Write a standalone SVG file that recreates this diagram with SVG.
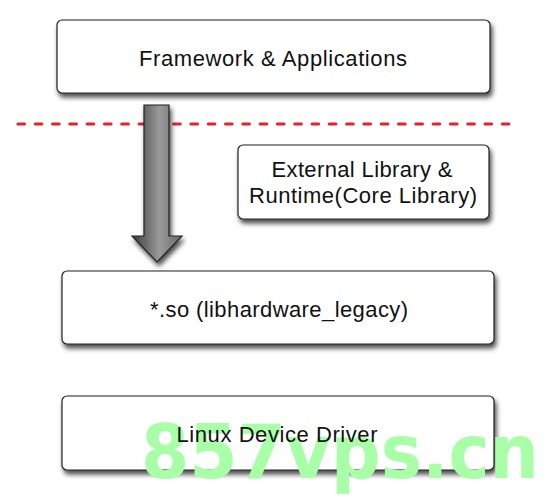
<svg xmlns="http://www.w3.org/2000/svg" width="556" height="500" viewBox="0 0 556 500">
<defs>
<filter id="sh" x="-10%" y="-20%" width="120%" height="150%">
<feGaussianBlur in="SourceAlpha" stdDeviation="2.5"/>
<feOffset dx="2" dy="4" result="b"/>
<feComponentTransfer><feFuncA type="linear" slope="0.7"/></feComponentTransfer>
<feMerge><feMergeNode/><feMergeNode in="SourceGraphic"/></feMerge>
</filter>
<linearGradient id="ag" x1="0" y1="0" x2="1" y2="0">
<stop offset="0" stop-color="#3a3a3a"/>
<stop offset="0.55" stop-color="#9a9a9a"/>
<stop offset="1" stop-color="#6a6a6a"/>
</linearGradient>
</defs>
<style>
.box{fill:#fff;stroke:#222;stroke-width:1.2;filter:url(#sh)}
.t{font-family:"Liberation Sans",Arial,sans-serif;font-size:22px;fill:#111;text-anchor:middle}
</style>
<rect width="556" height="500" fill="#fff"/>
<g id="connectors">
<line x1="18" y1="124" x2="514" y2="124" stroke="#e8202a" stroke-width="3.2" stroke-dasharray="6.5 10.8" stroke-linecap="round"/>
<path d="M144,105 H169 V236 H182 L157,262 L132,236 H144 Z" fill="url(#ag)" stroke="#222" stroke-width="1.2" filter="url(#sh)"/>
</g>
<g id="n1"><rect class="box" x="57" y="20" width="433" height="73" rx="5"/><text class="t" x="273" y="66" textLength="268" lengthAdjust="spacing">Framework &amp; Applications</text></g>
<g id="n2"><rect class="box" x="238" y="145" width="251" height="74" rx="5"/><text class="t" x="362" y="177" textLength="181" lengthAdjust="spacing">External Library &amp;</text><text class="t" x="363" y="203" textLength="228" lengthAdjust="spacing">Runtime(Core Library)</text></g>
<g id="n3"><rect class="box" x="62" y="271" width="432" height="73" rx="5"/><text class="t" x="279" y="317" textLength="258" lengthAdjust="spacing">*.so (libhardware_legacy)</text></g>
<g id="n4"><rect class="box" x="62" y="396" width="432" height="74" rx="5"/>
<text x="141" y="478" font-family="'DejaVu Sans',sans-serif" font-weight="bold" font-size="74" fill="#a8ffa8" textLength="398" lengthAdjust="spacingAndGlyphs">857vps.cn</text>
<text class="t" x="277" y="442" textLength="201" lengthAdjust="spacing">Linux Device Driver</text></g>
</svg>
